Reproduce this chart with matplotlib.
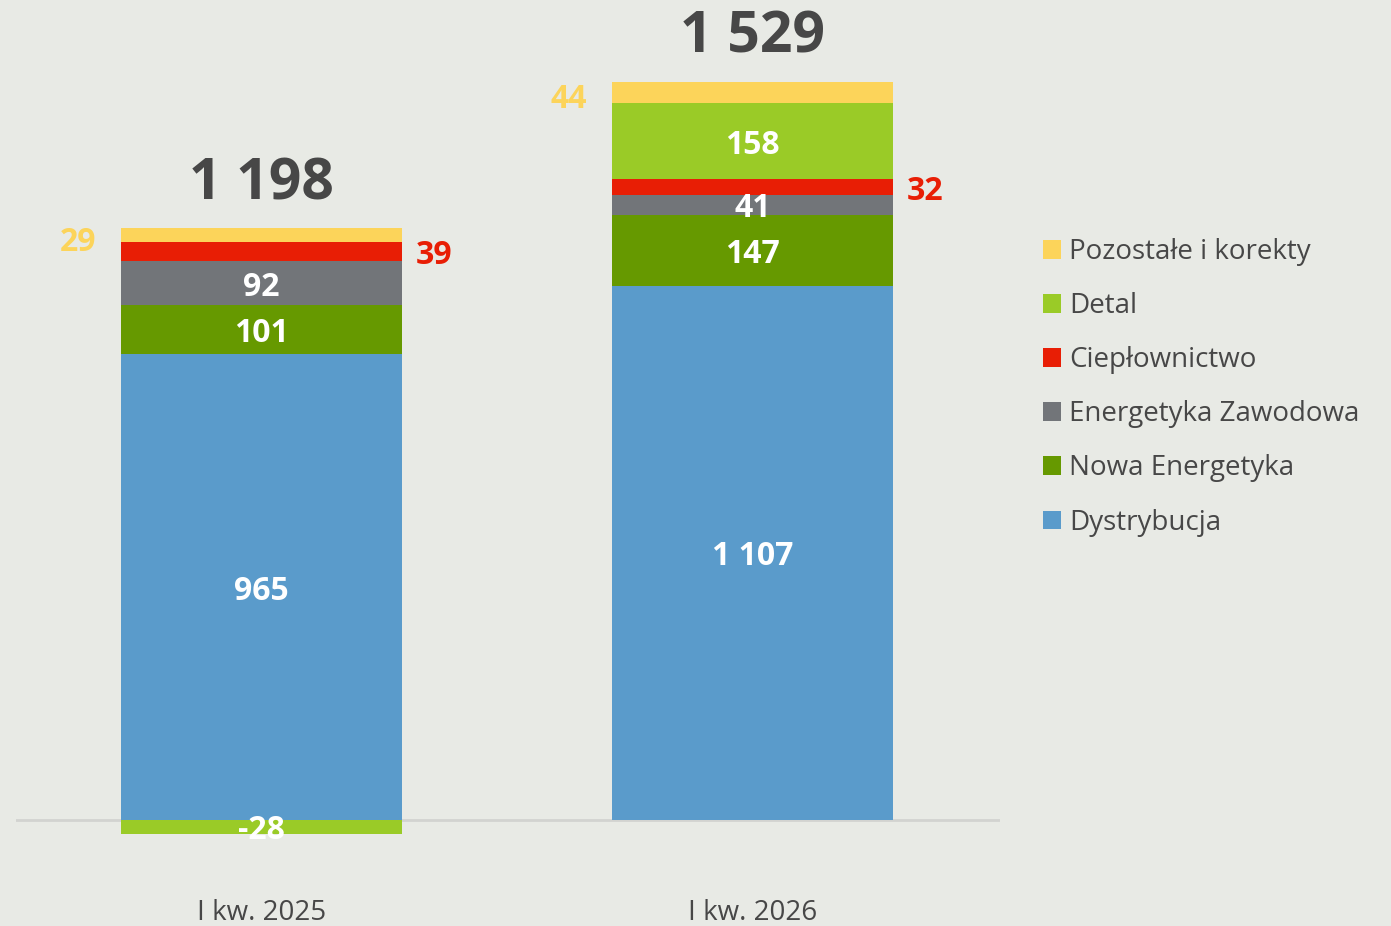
import numpy as np
import matplotlib.pyplot as plt

# data
quarters = ['I kw. 2025', 'I kw. 2026']
segments = ['Dystrybucja', 'Nowa Energetyka', 'Energetyka Zawodowa',
            'Ciepłownictwo', 'Detal', 'Pozostałe i korekty']
dystrybucja = [965, 1107]
nowa_energetyka = [101, 147]
energetyka_zawodowa = [92, 41]
cieplownictwo = [39, 32]
detal = [-28, 158]
pozostale = [29, 44]
totals = [1198, 1529]

colors = ['#5A9BCB', '#669900', '#727579', '#E81E05', '#9ACB27', '#FCD45A']
bg = '#E8EAE5'
dark = '#474747'

values = [dystrybucja, nowa_energetyka, energetyka_zawodowa,
          cieplownictwo, detal, pozostale]

def fmt(v):
    return f'{v:,}'.replace(',', ' ')

plt.rcParams['font.family'] = ['Open Sans', 'DejaVu Sans']

fig = plt.figure(figsize=(13.91, 9.26), dpi=100)
fig.patch.set_facecolor(bg)
ax = fig.add_axes([16 / 1391, 0, 984 / 1391, 1])
ax.set_facecolor(bg)

x = np.arange(len(quarters))
width = 0.572
pos_bottom = np.zeros(len(quarters))
neg_bottom = np.zeros(len(quarters))
bars = []
for name, vals, col in zip(segments, values, colors):
    vals = np.array(vals, dtype=float)
    bottom = np.where(vals >= 0, pos_bottom, neg_bottom)
    ax.bar(x, vals, width, bottom=bottom, color=col, label=name,
           edgecolor='none', zorder=2)
    bars.append((name, vals, bottom))
    pos_bottom = pos_bottom + np.where(vals >= 0, vals, 0)
    neg_bottom = neg_bottom + np.where(vals < 0, vals, 0)

# segment labels
dy = -4
for name, vals, bottom in bars:
    for i, v in enumerate(vals):
        yc = bottom[i] + v / 2
        if name == 'Pozostałe i korekty':
            ax.annotate(fmt(int(v)), xy=(x[i] - width / 2, yc), xytext=(-25, dy - 3),
                        textcoords='offset pixels', ha='right', va='center',
                        fontsize=23, fontweight='bold', color='#FCD45A')
        elif name == 'Ciepłownictwo':
            ax.annotate(fmt(int(v)), xy=(x[i] + width / 2, yc), xytext=(14, dy),
                        textcoords='offset pixels', ha='left', va='center',
                        fontsize=23, fontweight='bold', color='#E81E05')
        else:
            ax.annotate(fmt(int(v)), xy=(x[i], yc), xytext=(0, dy),
                        textcoords='offset pixels', ha='center', va='center',
                        fontsize=23, fontweight='bold', color='white', zorder=3)

# totals above the stacks
for i, t in enumerate(totals):
    ax.annotate(fmt(t), xy=(x[i], pos_bottom[i]), xytext=(0, 44),
                textcoords='offset pixels', ha='center', va='center',
                fontsize=41, fontweight='bold', color=dark)

# category labels
for i, q in enumerate(quarters):
    ax.text(x[i], -192, q, ha='center', va='center', fontsize=20, color=dark)

ax.axhline(0, color='#D2D3D0', linewidth=2, zorder=1)
ax.set_xlim(-0.5, 1.504)
ax.set_ylim(-219.6, 1698.8)
ax.axis('off')

handles, labels = ax.get_legend_handles_labels()
leg = fig.legend(handles[::-1], labels[::-1], loc='upper left',
                 bbox_to_anchor=(1018 / 1391, 1 - 213 / 926), frameon=False,
                 fontsize=20, labelcolor=dark, handlelength=0.65, handleheight=0.65,
                 handletextpad=0.3, labelspacing=0.94)

fig.savefig('out.png', dpi=100, facecolor=bg)
